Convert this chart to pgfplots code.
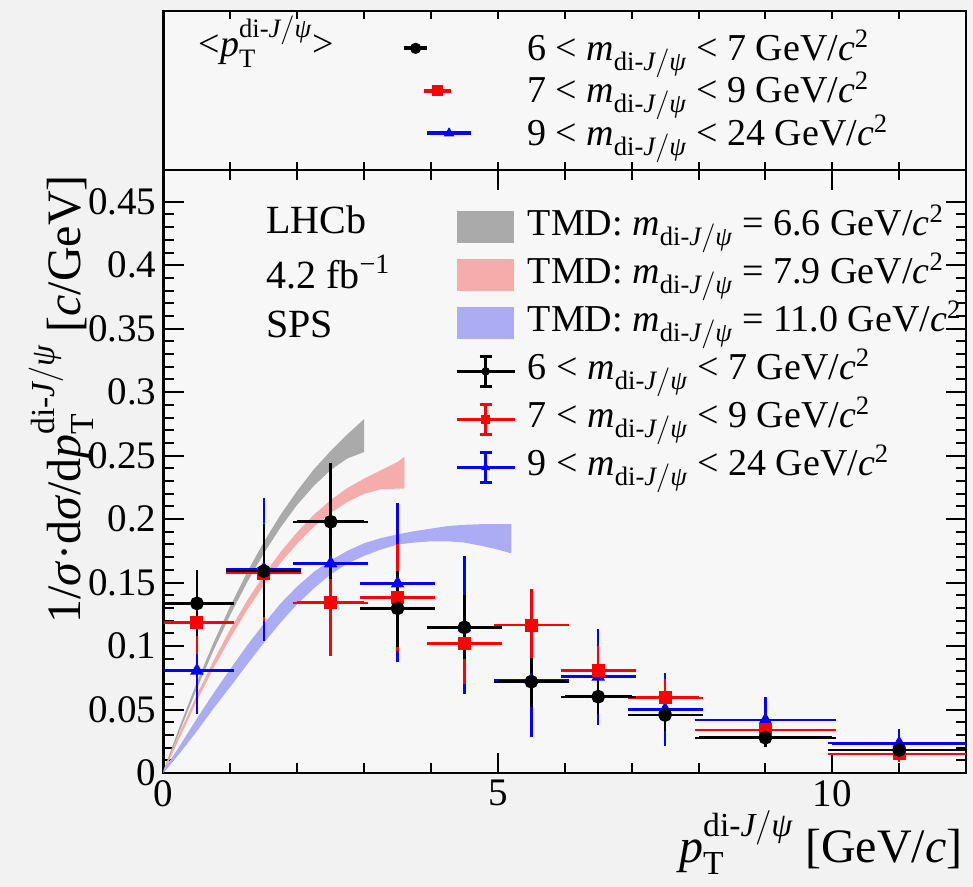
\documentclass[border=0pt]{standalone}
\usepackage{amsmath}
\usepackage{fontspec}
\setmainfont{Liberation Serif}
\usepackage{pgfplots}
\usepackage{pgfplotstable}
\pgfplotsset{compat=1.18}

\definecolor{bg}{RGB}{242,242,242}
\definecolor{panel}{RGB}{247,247,247}
\definecolor{bandgray}{RGB}{170,170,170}
\definecolor{bandred}{RGB}{247,172,172}
\definecolor{bandblue}{RGB}{172,172,245}
\definecolor{dred}{RGB}{255,0,0}
\definecolor{dblue}{RGB}{0,0,255}

\newcommand{\fs}{\fontsize{19}{23}\selectfont}
\newcommand{\tfs}{\fontsize{19.5}{23}\selectfont}
\newcommand{\lfs}{\fontsize{24}{28}\selectfont}
\newcommand{\mdi}{\ensuremath{\textit{m}_{\text{di-}\textit{J}/\textit{ψ}}}}
\newcommand{\ptdi}{\ensuremath{\textit{p}^{\text{di-}\textit{J}/\textit{ψ}}_{\text{T}}}}
\newcommand{\gevcc}{GeV/\textit{c}\textsuperscript{2}}

% data: x, y, half bin width, +err, -err
\pgfplotstableread{
x    y      ex   ep     em
0.5  0.1336 0.5  0.0231 0.0223
1.5  0.1590 0.5  0.0337 0.0328
2.5  0.1979 0.5  0.0433 0.0420
3.5  0.1297 0.5  0.0262 0.0271
4.5  0.1147 0.5  0.0221 0.0218
5.5  0.0719 0.5  0.0158 0.0170
6.5  0.0601 0.5  0.0105 0.0105
7.5  0.0457 0.5  0.0092 0.0092
9    0.0278 1    0.0039 0.0044
11   0.0181 1    0.0032 0.0031
}\blackdata
\pgfplotstableread{
x    y      ex   ep     em
0.5  0.1186 0.5  0.0214 0.0217
1.5  0.1575 0.5  0.0365 0.0345
2.5  0.1341 0.5  0.0389 0.0391
3.5  0.1383 0.5  0.0387 0.0388
4.5  0.1021 0.5  0.0294 0.0289
5.5  0.1165 0.5  0.0250 0.0249
6.5  0.0806 0.5  0.0163 0.0152
7.5  0.0593 0.5  0.0113 0.0110
9    0.0339 1    0.0041 0.0039
11   0.0150 1    0.0030 0.0028
}\reddata
\pgfplotstableread{
x    y      ex   ep     em
0.5  0.0806 0.5  0.0294 0.0310
1.5  0.1606 0.5  0.0530 0.0533
2.5  0.1651 0.5  0.0564 0.0551
3.5  0.1493 0.5  0.0604 0.0590
4.5  0.1147 0.5  0.0530 0.0493
5.5  0.0732 0.5  0.0433 0.0420
6.5  0.0759 0.5  0.0346 0.0347
7.5  0.0501 0.5  0.0252 0.0254
9    0.0417 1    0.0152 0.0144
11   0.0234 1    0.0078 0.0060
}\bluedata

\pgfplotsset{
  dpts/.style={only marks, line width=1.3pt,
    error bars/.cd, x dir=both, x explicit, y dir=both, y explicit,
    error bar style={line width=1.3pt},
    error mark options={line width=1.2pt, mark size=2pt},
    /pgfplots/.cd},
  bandleg/.style={legend image code/.code={\fill[##1] (0pt,-8pt) rectangle (28.5pt,8pt);}},
  ebleg/.style={legend image code/.code={
    \draw[mark repeat=2, mark phase=2, ##1, line width=1.3pt] plot coordinates {(0pt,0pt) (14.5pt,0pt) (29pt,0pt)};
    \draw[##1, line width=1.3pt] (14.5pt,-7.5pt) -- (14.5pt,7.5pt);
    \draw[##1, line width=1.2pt] (11.5pt,7.5pt) -- (17.5pt,7.5pt);
    \draw[##1, line width=1.2pt] (11.5pt,-7.5pt) -- (17.5pt,-7.5pt);}},
}

\begin{document}
\begin{tikzpicture}
\path[use as bounding box, fill=bg] (0pt,0pt) rectangle (486.5pt,443.5pt);

% upper panel: mean pT
\begin{axis}[
  at={(81.75pt,358.5pt)}, anchor=south west,
  width=401.25pt, height=79.5pt, scale only axis,
  xmin=0, xmax=12, ymin=0, ymax=1,
  xtick={1,2,3,4,5,6,7,8,9,10,11}, xticklabels={}, ytick=\empty,
  major tick length=4pt, tick align=inside,
  every tick/.style={black, line width=1pt},
  axis line style={line width=1.2pt},
  axis background/.style={fill=panel},
  font=\fs,
]
\addplot[black, line width=2pt] coordinates {(3.595,0.765) (3.945,0.765)};
\addplot[black, only marks, mark=*, mark size=2.6pt] coordinates {(3.77,0.765)};
\addplot[dred, line width=2pt] coordinates {(3.90,0.499) (4.30,0.499)};
\addplot[dred, only marks, mark=square*, mark size=2.6pt] coordinates {(4.10,0.499)};
\addplot[dblue, line width=2pt] coordinates {(3.94,0.231) (4.60,0.231)};
\addplot[dblue, only marks, mark=triangle*, mark size=2.6pt] coordinates {(4.27,0.231)};
\node[anchor=base west, inner sep=0pt] at (axis cs:0.52,0.711) {<\ptdi>};
\node[anchor=base west, inner sep=0pt] at (axis cs:5.43,0.689) {6 < \mdi{} < 7 \gevcc};
\node[anchor=base west, inner sep=0pt] at (axis cs:5.43,0.425) {7 < \mdi{} < 9 \gevcc};
\node[anchor=base west, inner sep=0pt] at (axis cs:5.43,0.154) {9 < \mdi{} < 24 \gevcc};
\end{axis}

% main panel
\begin{axis}[
  at={(81.75pt,57pt)}, anchor=south west,
  width=401.25pt, height=301.5pt, scale only axis,
  xmin=0, xmax=12, ymin=0, ymax=0.475,
  xtick={0,5,10}, minor xtick={1,2,3,4,6,7,8,9,11},
  ytick={0,0.05,0.1,0.15,0.2,0.25,0.3,0.35,0.4,0.45}, minor y tick num=4,
  major tick length=10pt, minor tick length=5pt, tick align=inside,
  every tick/.style={black, line width=1pt},
  axis line style={line width=1.2pt},
  axis background/.style={fill=panel},
  font=\fs,
  xticklabel style={/pgf/number format/assume math mode=true, font=\tfs},
  yticklabel style={/pgf/number format/assume math mode=true,
    /pgf/number format/fixed, /pgf/number format/precision=2, font=\tfs},
  xlabel={\ptdi\ [GeV/\textit{c}]},
  xlabel style={at={(rel axis cs:0.996,-0.1476)}, anchor=base east, inner sep=0pt, font=\lfs},
  ylabel={1/\textit{σ}·d\textit{σ}/d\ptdi\ [\textit{c}/GeV]},
  ylabel style={at={(rel axis cs:-0.0872,0.992)}, anchor=south east, inner sep=0pt, font=\lfs},
  legend style={at={(rel axis cs:0.3632,0.9353)}, anchor=north west, draw=none, fill=none,
    inner sep=0pt, row sep=6pt, font=\fs,
    nodes={inner sep=0pt, text height=13pt, text depth=5pt},
    /tikz/every odd column/.append style={column sep=6pt}},
  legend cell align=left,
]
% TMD bands (lower edge forward, upper edge back)
\addplot[fill=bandgray, draw=none, bandleg] coordinates {
 (0,0) (0.25,0.0338) (0.5,0.0666) (0.75,0.0969) (1,0.1247) (1.25,0.1501) (1.5,0.1730)
 (1.75,0.1934) (2,0.2113) (2.25,0.2263) (2.5,0.2387) (2.75,0.2478) (3,0.2528)
 (3,0.2788) (2.75,0.2668) (2.5,0.2537) (2.25,0.2393) (2,0.2223) (1.75,0.2034) (1.5,0.1820)
 (1.25,0.1581) (1,0.1317) (0.75,0.1029) (0.5,0.0716) (0.25,0.0378) (0,0.002)};
\addlegendentry{TMD: \mdi{} = 6.6 \gevcc}
\addplot[fill=bandred, draw=none, bandleg] coordinates {
 (0,0) (0.25,0.0287) (0.5,0.0569) (0.75,0.0827) (1,0.1065) (1.25,0.1283) (1.5,0.1480)
 (1.75,0.1655) (2,0.1808) (2.25,0.1940) (2.5,0.2050) (2.75,0.2135) (3,0.2199)
 (3.25,0.2235) (3.5,0.2240) (3.6,0.2240)
 (3.6,0.2490) (3.5,0.2450) (3.25,0.2385) (3,0.2319) (2.75,0.2245) (2.5,0.2150) (2.25,0.2035)
 (2,0.1898) (1.75,0.1740) (1.5,0.1560) (1.25,0.1358) (1,0.1135) (0.75,0.0887)
 (0.5,0.0619) (0.25,0.0327) (0,0.002)};
\addlegendentry{TMD: \mdi{} = 7.9 \gevcc}
\addplot[fill=bandblue, draw=none, bandleg] coordinates {
 (0,0) (0.25,0.016) (0.5,0.033) (0.75,0.051) (1,0.068) (1.25,0.0855) (1.5,0.1025)
 (1.75,0.1185) (2,0.133) (2.25,0.1455) (2.5,0.1565) (2.75,0.165) (3,0.171) (3.25,0.176)
 (3.5,0.180) (3.75,0.1815) (4,0.1825) (4.25,0.1825) (4.5,0.1815) (4.75,0.179) (5,0.176) (5.2,0.173)
 (5.2,0.196) (5,0.196) (4.75,0.196) (4.5,0.1955) (4.25,0.1945) (4,0.1925) (3.75,0.1905)
 (3.5,0.188) (3.25,0.185) (3,0.181) (2.75,0.175) (2.5,0.1675) (2.25,0.1585) (2,0.147)
 (1.75,0.1335) (1.5,0.1175) (1.25,0.1005) (1,0.082) (0.75,0.063) (0.5,0.043) (0.25,0.022) (0,0.002)};
\addlegendentry{TMD: \mdi{} = 11.0 \gevcc}
\addlegendimage{black, mark=*, mark size=1.9pt, mark options={line width=0.4pt}, ebleg}
\addlegendentry{6 < \mdi{} < 7 \gevcc}
\addlegendimage{dred, mark=square*, mark size=1.9pt, mark options={line width=0.4pt}, ebleg}
\addlegendentry{7 < \mdi{} < 9 \gevcc}
\addlegendimage{dblue, mark=triangle*, mark size=2.2pt, mark options={line width=0.4pt}, ebleg}
\addlegendentry{9 < \mdi{} < 24 \gevcc}

% measured points
\addplot[forget plot, dblue, mark=triangle*, mark size=2.6pt, dpts]
  table[x=x, y=y, x error=ex, y error plus=ep, y error minus=em] {\bluedata};
\addplot[forget plot, dred, mark=square*, mark size=2.6pt, dpts]
  table[x=x, y=y, x error=ex, y error plus=ep, y error minus=em] {\reddata};
\addplot[forget plot, black, mark=*, mark size=2.8pt, dpts]
  table[x=x, y=y, x error=ex, y error plus=ep, y error minus=em] {\blackdata};

\node[anchor=base west, inner sep=0pt, font=\fontsize{20}{24}\selectfont] at (axis cs:1.53,0.4252) {LHCb};
\node[anchor=base west, inner sep=0pt, font=\fontsize{20}{24}\selectfont] at (axis cs:1.53,0.3819) {4.2 fb\textsuperscript{−1}};
\node[anchor=base west, inner sep=0pt, font=\fontsize{20}{24}\selectfont] at (axis cs:1.53,0.3433) {SPS};
\end{axis}
\end{tikzpicture}
\end{document}
